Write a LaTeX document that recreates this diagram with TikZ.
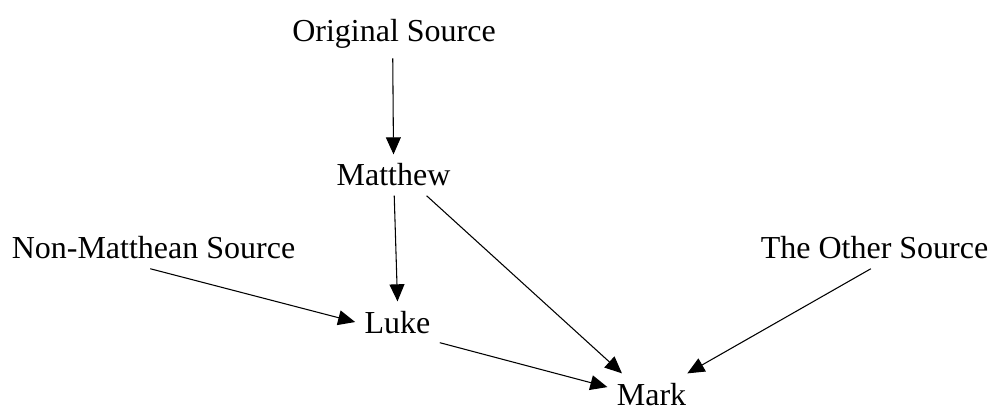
\documentclass[tikz,border=0pt]{standalone}
\usepackage{fontspec}
\setmainfont{Liberation Serif}
\usetikzlibrary{arrows.meta}

\begin{document}
\begin{tikzpicture}[x=0.375pt, y=-0.375pt, >={Triangle[length=6.4pt,width=5.6pt]},
    src/.style={font=\fontsize{12}{14}\selectfont, anchor=base}]
                \useasboundingbox (0,0) rectangle (990,409);

                \node[src] (orig) at (394,42) {Original Source};
                \node[src] (matt) at (393.5,186) {Matthew};
                \node[src] (nonm) at (153.5,259) {Non-Matthean Source};
                \node[src] (other) at (874.5,259) {The Other Source};
                \node[src] (luke) at (397.5,333) {Luke};
                \node[src] (mark) at (651.5,405) {Mark};

                \draw[->] (orig.-93) -- (matt.north);
                \draw[->] (matt.-88) -- (luke.north);
                \draw[->] (matt.-32) -- (mark.145);
                \draw[->] (nonm.-99) -- (luke.west);
                \draw[->] (luke.-26) -- (mark.171);
                \draw[->] (other.-100) -- (mark.30);
            \end{tikzpicture}
\end{document}
